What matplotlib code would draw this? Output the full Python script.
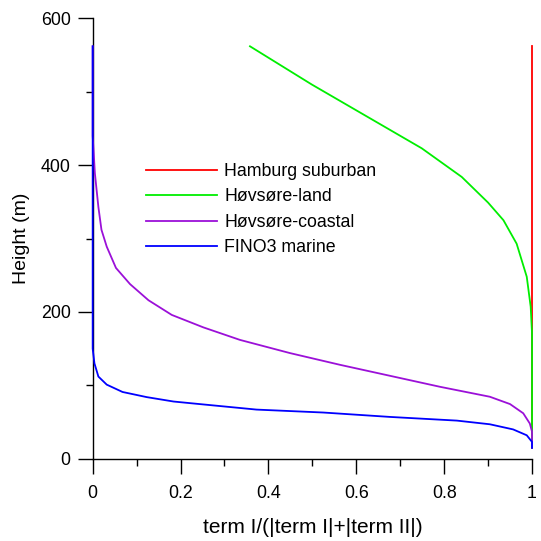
import matplotlib
matplotlib.use("Agg")
import matplotlib.pyplot as plt
from matplotlib.ticker import MultipleLocator

plt.rcParams['font.family'] = ['Liberation Sans', 'DejaVu Sans']

# profiles: height (m) and term I/(|term I|+|term II|)
hamburg_h = [15, 562]
hamburg_x = [1.0, 1.0]

land_h = [562, 510, 423, 384, 349, 325, 293, 248, 207, 171, 15]
land_x = [0.358, 0.4985, 0.749, 0.840, 0.900, 0.935, 0.965, 0.988, 0.997, 1.0, 1.0]

coastal_h = [562, 440, 420, 389, 343, 312, 289, 260, 238, 216, 196, 179, 162,
             144, 128, 113, 98, 84.5, 74.5, 62, 48, 37, 15]
coastal_x = [0.0, 0.0, 0.002, 0.005, 0.013, 0.020, 0.032, 0.053, 0.085, 0.127,
             0.180, 0.252, 0.335, 0.449, 0.563, 0.677, 0.791, 0.904, 0.950,
             0.980, 0.995, 1.0, 1.0]

marine_h = [562, 150, 130, 112, 101, 91, 84, 78, 75, 67, 63, 57, 52, 47, 40,
            32, 23, 15]
marine_x = [0.0, 0.0, 0.004, 0.013, 0.032, 0.068, 0.123, 0.184, 0.235, 0.373,
            0.525, 0.677, 0.829, 0.904, 0.957, 0.988, 1.0, 1.0]

labels = ["Hamburg suburban", "Høvsøre-land", "Høvsøre-coastal", "FINO3 marine"]
colors = ["#ff0000", "#00ee00", "#9b10d8", "#0000ff"]

fig = plt.figure(figsize=(5.41, 5.41), dpi=100)
ax = fig.add_axes([0.1713, 0.152, 0.8121, 0.814])

series = [(hamburg_x, hamburg_h), (land_x, land_h),
          (coastal_x, coastal_h), (marine_x, marine_h)]
for (xs, hs), lab, c in zip(series, labels, colors):
    ax.plot(xs, hs, color=c, lw=1.3, label=lab, clip_on=False, zorder=3)

ax.set_xlim(0, 1)
ax.set_ylim(0, 600)
ax.spines['top'].set_visible(False)
ax.spines['right'].set_visible(False)
ax.spines['left'].set_linewidth(1.0)
ax.spines['bottom'].set_linewidth(1.0)

ax.xaxis.set_minor_locator(MultipleLocator(0.1))
ax.yaxis.set_major_locator(MultipleLocator(200))
ax.yaxis.set_minor_locator(MultipleLocator(100))
ax.set_xticks([0, 0.2, 0.4, 0.6, 0.8, 1.0])
ax.set_xticklabels(["0", "0.2", "0.4", "0.6", "0.8", "1"])

ax.tick_params(which='major', direction='out', length=10.8, width=1.0,
               labelsize=12.8)
ax.tick_params(which='minor', direction='out', length=5.3, width=1.0)
ax.tick_params(axis='x', which='major', pad=8)
ax.tick_params(axis='y', which='major', pad=5)

ax.set_ylabel("Height (m)", fontsize=14, va='center')
ax.set_xlabel("term I/(|term I|+|term II|)", fontsize=15, va='center')
ax.yaxis.set_label_coords(-0.162, 0.5)
ax.xaxis.set_label_coords(0.5, -0.155)

ax.legend(loc='upper left', bbox_to_anchor=(0.121, 0.672), frameon=False,
          fontsize=12.8, handlelength=4.0, handletextpad=0.4,
          labelspacing=0.48, borderaxespad=0, borderpad=0)

fig.savefig("out.png", dpi=100)
